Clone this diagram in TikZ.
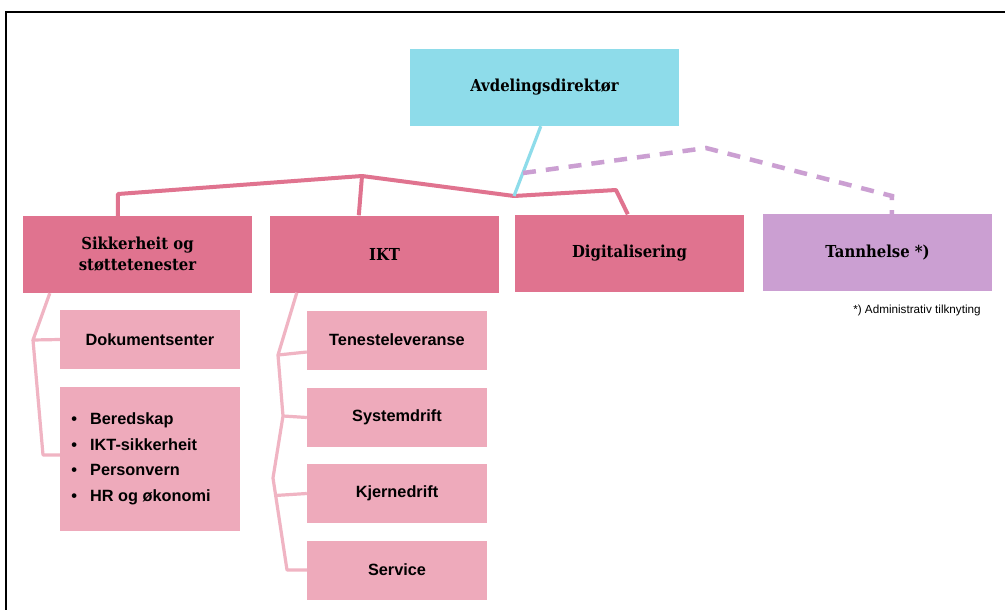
\documentclass[tikz,border=0pt]{standalone}
\usepackage{fontspec}
\setmainfont{DejaVu Serif}
\newfontfamily\slab{DejaVu Serif}[FakeStretch=0.9]
\newfontfamily\rob{Liberation Sans}
\usetikzlibrary{calc}
\definecolor{dircol}{HTML}{8EDCEA}
\definecolor{headcol}{HTML}{E0738F}
\definecolor{subcol}{HTML}{EEAABB}
\definecolor{sublink}{HTML}{F0B4C3}
\definecolor{tancol}{HTML}{CB9FD2}
\tikzset{
  box/.style={draw=none, inner sep=0pt, align=center, text=black},
  headbox/.style={box, fill=headcol, minimum width=229pt, minimum height=77pt, font=\slab\bfseries\fontsize{16.5}{21}\selectfont},
  subbox/.style={box, fill=subcol, minimum width=180pt, minimum height=59pt, font=\rob\bfseries\fontsize{16.3}{20}\selectfont},
  mainlink/.style={draw=headcol, line width=4pt, line join=round},
  sublinkst/.style={draw=sublink, line width=3.2pt, line join=round},
  dirlink/.style={draw=dircol, line width=3.2pt},
  tanlink/.style={draw=tancol, line width=4.5pt, dash pattern=on 13pt off 10pt},
}
\begin{document}
\begin{tikzpicture}[x=1pt,y=-1pt]
\useasboundingbox (0,0) rectangle (1005,610);
\fill[white] (0,0) rectangle (1005,610);
% frame
\draw[black, line width=2pt] (6,610) -- (6,12) -- (1005,12);
% nodes
\node[headbox, fill=dircol, minimum width=269pt] (dir) at (544.5,87.5) {Avdelingsdirektør};
\node[headbox] (sik) at (137.5,254.5) {Sikkerheit og\\støttetenester};
\node[headbox] (ikt) at (384.5,254) {IKT};
\node[headbox] (dig) at (629.5,253) {Digitalisering};
\node[headbox, fill=tancol] (tan) at (877.5,252.5) {Tannhelse *)};
\node[font=\rob\fontsize{11.7}{14}\selectfont, inner sep=0pt] (note) at (917,310) {*) Administrativ tilknyting};
\node[subbox] (dok) at (150,339.5) {Dokumentsenter};
\node[subbox, minimum height=144pt, align=left] (list) at (150,459) {%
  \begin{tabular}{@{}l@{\hspace{13pt}}l@{\hspace{18pt}}}
  \textbullet & Beredskap\\[5.6pt]
  \textbullet & IKT-sikkerheit\\[5.6pt]
  \textbullet & Personvern\\[5.6pt]
  \textbullet & HR og økonomi
  \end{tabular}};
\node[subbox] (ten) at (397,340) {Tenesteleveranse};
\node[subbox] (sys) at (397,417.5) {Systemdrift};
\node[subbox] (kje) at (397,493.5) {Kjernedrift};
\node[subbox] (ser) at (397,570) {Service};
% bend points
\coordinate (p1) at (118,194);
\coordinate (p2) at (362,176);
\coordinate (p3) at (514,196);
\coordinate (p4) at (616,190);
\coordinate (d1) at (523,173);
\coordinate (d2) at (706,148);
\coordinate (d3) at (892,196);
\coordinate (s1) at (33,340);
\coordinate (s2) at (43,455);
\coordinate (i1) at (278,355);
\coordinate (i2) at (283,416);
\coordinate (i3) at (273,478);
\coordinate (i4) at (287,570);
\coordinate (i5) at ($(i3)!0.19!(i4)$);
% connectors
\draw[mainlink] ([xshift=95pt]sik.north west) -- (p1) -- (p2) -- (p3) -- (p4) -- ([xshift=113pt]dig.north west);
\draw[mainlink] (p2) -- ([xshift=89pt]ikt.north west);
\draw[dirlink] ([xshift=131pt]dir.south west) -- (p3);
\draw[tanlink] (d1) -- (d2) -- (d3) -- ([xshift=129pt]tan.north west);
\draw[sublinkst] ([xshift=27pt]sik.south west) -- (s1) -- (dok.west);
\draw[sublinkst] (s1) -- (s2) -- ([yshift=4pt]list.west);
\draw[sublinkst] ([xshift=27pt]ikt.south west) -- (i1) -- (i2) -- (i3) -- (i4) -- (ser.west);
\draw[sublinkst] (i1) -- ([yshift=-12pt]ten.west);
\draw[sublinkst] (i2) -- (sys.west);
\draw[sublinkst] (i5) -- (kje.west);
\end{tikzpicture}
\end{document}
